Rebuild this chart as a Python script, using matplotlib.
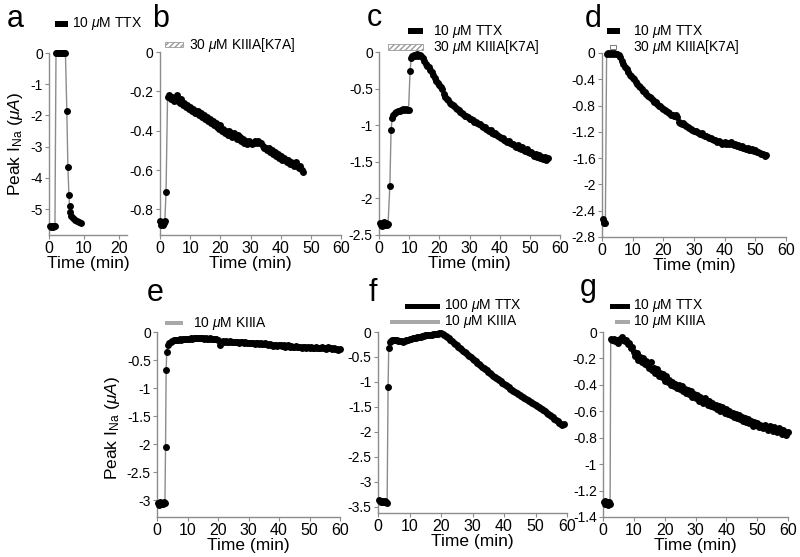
import numpy as np
import matplotlib
matplotlib.use('Agg')
import matplotlib.pyplot as plt
import matplotlib.transforms as mtransforms
from matplotlib.patches import Rectangle
from matplotlib.ticker import FormatStrFormatter

plt.rcParams['font.family'] = ['Liberation Sans', 'DejaVu Sans']
plt.rcParams['mathtext.fontset'] = 'custom'
plt.rcParams['mathtext.rm'] = 'Liberation Sans'
plt.rcParams['mathtext.it'] = 'Liberation Sans:italic'
plt.rcParams['axes.unicode_minus'] = False

# ---------------- DATA ----------------
# panel a
a_time = [0.2, 0.5, 0.8, 1.1, 1.4, 1.7,
          2.0, 2.3, 2.6, 2.9, 3.2, 3.5, 3.8, 4.1, 4.4, 4.7,
          5.1, 5.4, 5.7, 5.9, 6.1, 6.4, 6.9, 7.4, 8.0, 8.5, 9.1]
a_current = [-5.55, -5.56, -5.54, -5.56, -5.55, -5.55,
             0.0, -0.01, 0.0, -0.01, 0.0, 0.0, -0.01, 0.0, -0.01, 0.0,
             -1.87, -3.65, -4.55, -4.9, -5.1, -5.22, -5.3, -5.35, -5.38, -5.42, -5.45]

# panel b
b_time_early = [0.1, 0.4, 0.7, 1.0, 1.3, 1.6, 2.0]
b_current_early = [-0.86, -0.88, -0.87, -0.88, -0.87, -0.86, -0.71]
b_step_start = 2.5
b_current = [-0.23, -0.22, -0.24, -0.23, -0.25, -0.24, -0.22, -0.25, -0.26, -0.24,
             -0.27, -0.26, -0.28, -0.27, -0.29, -0.28, -0.30, -0.29, -0.31, -0.30,
             -0.30, -0.32, -0.31, -0.33, -0.32, -0.34, -0.33, -0.35, -0.34, -0.36,
             -0.35, -0.37, -0.36, -0.38, -0.39, -0.37, -0.40, -0.39, -0.41, -0.40,
             -0.42, -0.40, -0.41, -0.43, -0.41, -0.42, -0.44, -0.42, -0.43, -0.45,
             -0.44, -0.46, -0.45, -0.47, -0.45, -0.46, -0.47, -0.46, -0.45, -0.46,
             -0.45, -0.46, -0.46, -0.48, -0.49, -0.49, -0.50, -0.49, -0.51, -0.50,
             -0.52, -0.51, -0.53, -0.52, -0.54, -0.53, -0.55, -0.54, -0.55, -0.56,
             -0.55, -0.57, -0.56, -0.57, -0.58, -0.56, -0.58, -0.59, -0.58, -0.60,
             -0.61]

# panel c
c_time_early = [0.3, 0.6, 0.9, 1.2, 1.5, 1.8, 2.1, 2.4, 2.7, 3.0, 3.6, 4.0, 4.4, 4.8,
                5.3, 5.8, 6.3, 6.8, 7.3, 7.8, 8.3, 8.8, 9.3, 9.8, 10.3, 10.7, 11.1,
                11.5, 12.0, 12.5, 13.0, 13.5]
c_current_early = [-2.33, -2.36, -2.38, -2.34, -2.32, -2.35, -2.37, -2.34, -2.36, -2.35,
                   -1.83, -1.06, -0.90, -0.86, -0.84, -0.82, -0.81, -0.80, -0.79, -0.78,
                   -0.79, -0.78, -0.79, -0.79, -0.26, -0.08, -0.05, -0.04, -0.05, -0.03,
                   -0.05, -0.04]
c_step_start = 14.0
c_current = [-0.05, -0.08, -0.12, -0.16, -0.19, -0.21, -0.24, -0.27, -0.31, -0.36,
             -0.40, -0.43, -0.45, -0.48, -0.51, -0.58, -0.62, -0.64, -0.66, -0.69,
             -0.71, -0.72, -0.74, -0.76, -0.78, -0.79, -0.82, -0.84, -0.85, -0.87,
             -0.88, -0.89, -0.91, -0.92, -0.93, -0.95, -0.96, -0.97, -0.99, -0.98,
             -1.01, -1.03, -1.02, -1.05, -1.06, -1.08, -1.07, -1.10, -1.12, -1.11,
             -1.14, -1.15, -1.16, -1.18, -1.17, -1.20, -1.21, -1.23, -1.22, -1.24,
             -1.26, -1.25, -1.28, -1.30, -1.27, -1.31, -1.32, -1.30, -1.34, -1.35,
             -1.33, -1.37, -1.38, -1.36, -1.40, -1.42, -1.39, -1.43, -1.41, -1.45,
             -1.43, -1.46, -1.44, -1.47, -1.45]

# panel d
d_time_early = [0.2, 0.5, 0.8, 1.1, 1.5, 2.0, 2.5, 3.0, 3.5, 4.0, 4.5, 5.0, 5.5, 6.0]
d_current_early = [-2.53, -2.57, -2.59, -2.58, -0.02, 0.0, -0.01, 0.0, -0.02, 0.0,
                   -0.01, -0.02, -0.03, -0.06]
d_step_start = 6.5
d_current = [-0.12, -0.17, -0.22, -0.25, -0.29, -0.33, -0.35, -0.38, -0.40, -0.44,
             -0.47, -0.50, -0.52, -0.55, -0.58, -0.60, -0.62, -0.65, -0.67, -0.69,
             -0.71, -0.74, -0.75, -0.77, -0.80, -0.81, -0.83, -0.85, -0.87, -0.89,
             -0.90, -0.92, -0.94, -0.95, -0.96, -0.95, -0.98, -1.05, -1.07, -1.08,
             -1.07, -1.09, -1.11, -1.12, -1.14, -1.15, -1.17, -1.18, -1.19, -1.20,
             -1.22, -1.23, -1.22, -1.25, -1.26, -1.27, -1.28, -1.30, -1.29, -1.31,
             -1.32, -1.33, -1.35, -1.34, -1.36, -1.38, -1.37, -1.35, -1.38, -1.37,
             -1.39, -1.36, -1.38, -1.40, -1.39, -1.41, -1.40, -1.43, -1.42, -1.45,
             -1.44, -1.46, -1.44, -1.47, -1.48, -1.46, -1.49, -1.48, -1.51, -1.50,
             -1.52, -1.54, -1.53, -1.56, -1.55]

# panel e
e_time_early = [0.2, 0.5, 0.8, 1.1, 1.4, 1.7, 2.0, 2.3, 2.6, 2.8, 3.0, 3.2, 3.5]
e_current_early = [-3.05, -3.08, -3.06, -3.04, -3.07, -3.05, -3.06, -3.04, -3.05,
                   -2.05, -0.67, -0.35, -0.24]
e_step_start = 4.0
e_current = [-0.20, -0.17, -0.16, -0.15, -0.15, -0.14, -0.14, -0.13, -0.14, -0.13,
             -0.12, -0.13, -0.12, -0.12, -0.11, -0.12, -0.11, -0.11, -0.10, -0.11,
             -0.11, -0.10, -0.11, -0.12, -0.11, -0.12, -0.12, -0.11, -0.13, -0.12,
             -0.13, -0.12, -0.14, -0.24, -0.17, -0.16, -0.17, -0.16, -0.17, -0.18,
             -0.16, -0.17, -0.18, -0.17, -0.18, -0.17, -0.19, -0.18, -0.18, -0.19,
             -0.18, -0.20, -0.19, -0.19, -0.20, -0.19, -0.21, -0.20, -0.20, -0.21,
             -0.20, -0.22, -0.21, -0.20, -0.22, -0.23, -0.22, -0.24, -0.25, -0.24,
             -0.23, -0.25, -0.24, -0.23, -0.25, -0.24, -0.26, -0.25, -0.24, -0.26,
             -0.25, -0.26, -0.27, -0.25, -0.26, -0.27, -0.26, -0.28, -0.27, -0.26,
             -0.28, -0.27, -0.29, -0.27, -0.28, -0.29, -0.27, -0.28, -0.29, -0.28,
             -0.27, -0.29, -0.28, -0.30, -0.27, -0.29, -0.28, -0.30, -0.29, -0.31,
             -0.30, -0.32, -0.30]

# panel f
f_time_early = [0.2, 0.5, 0.8, 1.1, 1.4, 1.7, 2.0, 2.3, 2.6, 2.9, 3.2, 3.4, 3.7]
f_current_early = [-3.36, -3.38, -3.41, -3.39, -3.40, -3.38, -3.41, -3.39, -3.40, -3.42,
                   -1.10, -0.33, -0.20]
f_step_start = 4.0
f_current = [-0.18, -0.17, -0.16, -0.17, -0.17, -0.18, -0.18, -0.19, -0.20, -0.19,
             -0.17, -0.16, -0.15, -0.14, -0.13, -0.13, -0.12, -0.11, -0.10, -0.10,
             -0.08, -0.08, -0.07, -0.07, -0.06, -0.06, -0.06, -0.05, -0.05, -0.04,
             -0.04, -0.03, -0.03, -0.04, -0.06, -0.08, -0.11, -0.13, -0.16, -0.19,
             -0.22, -0.25, -0.27, -0.30, -0.32, -0.35, -0.38, -0.40, -0.43, -0.46,
             -0.49, -0.51, -0.54, -0.57, -0.59, -0.62, -0.64, -0.67, -0.70, -0.72,
             -0.75, -0.77, -0.80, -0.83, -0.85, -0.88, -0.90, -0.92, -0.94, -0.97,
             -0.99, -1.02, -1.04, -1.07, -1.09, -1.11, -1.14, -1.16, -1.18, -1.20,
             -1.23, -1.25, -1.27, -1.29, -1.31, -1.33, -1.35, -1.37, -1.39, -1.41,
             -1.43, -1.45, -1.47, -1.49, -1.51, -1.53, -1.55, -1.57, -1.59, -1.62,
             -1.64, -1.66, -1.69, -1.71, -1.74, -1.76, -1.79, -1.82, -1.84, -1.86,
             -1.85]

# panel g
g_time_early = [0.2, 0.5, 0.8, 1.1, 1.4, 1.7, 2.0, 2.3]
g_current_early = [-1.29, -1.30, -1.28, -1.30, -1.29, -1.31, -1.29, -1.30]
g_step_start = 2.5
g_current = [-0.05, -0.06, -0.05, -0.07, -0.06, -0.08, -0.05, -0.04, -0.06, -0.07,
             -0.06, -0.09, -0.08, -0.12, -0.11, -0.15, -0.18, -0.16, -0.21, -0.19,
             -0.23, -0.20, -0.24, -0.22, -0.26, -0.27, -0.23, -0.29, -0.27, -0.31,
             -0.28, -0.33, -0.31, -0.34, -0.32, -0.37, -0.33, -0.38, -0.36, -0.40,
             -0.38, -0.41, -0.39, -0.42, -0.40, -0.43, -0.41, -0.45, -0.43, -0.46,
             -0.44, -0.47, -0.45, -0.49, -0.47, -0.50, -0.48, -0.52, -0.49, -0.51,
             -0.54, -0.50, -0.53, -0.55, -0.52, -0.56, -0.54, -0.57, -0.55, -0.58,
             -0.56, -0.60, -0.57, -0.59, -0.61, -0.58, -0.62, -0.60, -0.63, -0.61,
             -0.64, -0.62, -0.65, -0.63, -0.66, -0.64, -0.67, -0.65, -0.68, -0.66,
             -0.69, -0.67, -0.71, -0.68, -0.70, -0.69, -0.72, -0.70, -0.71, -0.73,
             -0.70, -0.72, -0.74, -0.71, -0.73, -0.75, -0.72, -0.74, -0.76, -0.73,
             -0.75, -0.77, -0.74, -0.76, -0.78, -0.76]

SAMPLE_STEP = 0.5

# drug application bars: (start, end, style, label)
a_apps = [(1.7, 5.4, 'black', '10 $\\mu$M TTX')]
b_apps = [(1.7, 7.6, 'hatch', '30 $\\mu$M KIIIA[K7A]')]
c_apps = [(9.6, 14.6, 'black', '10 $\\mu$M TTX'), (3.0, 14.6, 'hatch', '30 $\\mu$M KIIIA[K7A]')]
d_apps = [(1.6, 5.9, 'black', '10 $\\mu$M TTX'), (2.6, 4.6, 'open', '30 $\\mu$M KIIIA[K7A]')]
e_apps = [(2.6, 8.5, 'gray', '10 $\\mu$M KIIIA')]
f_apps = [(8.6, 19.7, 'black', '100 $\\mu$M TTX'), (3.8, 19.7, 'gray', '10 $\\mu$M KIIIA')]
g_apps = [(2.3, 8.8, 'black', '10 $\\mu$M TTX'), (3.9, 8.8, 'gray', '10 $\\mu$M KIIIA')]

a_yticks = [0, -1, -2, -3, -4, -5]
b_yticks = [0, -0.2, -0.4, -0.6, -0.8]
c_yticks = [0, -0.5, -1, -1.5, -2, -2.5]
d_yticks = [0, -0.4, -0.8, -1.2, -1.6, -2, -2.4, -2.8]
e_yticks = [0, -0.5, -1, -1.5, -2, -2.5, -3]
f_yticks = [0, -0.5, -1, -1.5, -2, -2.5, -3, -3.5]
g_yticks = [0, -0.2, -0.4, -0.6, -0.8, -1, -1.2, -1.4]
a_xticks = [0, 10, 20]
long_xticks = [0, 10, 20, 30, 40, 50, 60]

# ---------------- FIGURE ----------------
W, H = 800, 557
fig = plt.figure(figsize=(W / 100, H / 100), dpi=100)
fig.patch.set_facecolor('white')

SPINE = '#8c8c8c'
LINE = '#8c8c8c'


def px_axes(left, top, right, bottom):
    return fig.add_axes([left / W, 1 - bottom / H, (right - left) / W, (bottom - top) / H])


def full_series(t_early, v_early, start, vals):
    t = list(t_early) + list(start + SAMPLE_STEP * np.arange(len(vals)))
    v = list(v_early) + list(vals)
    return t, v


def style_axes(ax, xlim, ylim, xticks, yticks):
    ax.set_xlim(*xlim)
    ax.set_ylim(*ylim)
    ax.set_xticks(xticks)
    ax.set_yticks(yticks)
    ax.yaxis.set_major_formatter(FormatStrFormatter('%g'))
    for s in ['top', 'right']:
        ax.spines[s].set_visible(False)
    for s in ['left', 'bottom']:
        ax.spines[s].set_color(SPINE)
        ax.spines[s].set_linewidth(1.0)
    ax.tick_params(axis='both', direction='out', length=3, width=0.8, color=SPINE,
                   pad=1.5)
    ax.tick_params(axis='y', labelsize=10)
    ax.tick_params(axis='x', labelsize=11.5, pad=1)
    ax.set_xlabel('Time (min)', fontsize=12.5, labelpad=0)
    ax.patch.set_alpha(0)


def plot_trace(ax, t, v):
    ax.plot(t, v, '-', color=LINE, lw=1.0, zorder=2, clip_on=False)
    ax.plot(t, v, 'o', color='black', ms=5, mec='black', mew=0, zorder=3,
            clip_on=False)


def draw_apps(ax, apps, rows_px, text_x_px):
    trans = mtransforms.blended_transform_factory(ax.transData, fig.transFigure)
    for (s, e, style, label), ypx in zip(apps, rows_px):
        yc = 1 - ypx / H
        if style == 'black':
            h = 5 / H
            ax.add_patch(Rectangle((s, yc - h / 2), e - s, h, transform=trans,
                                   facecolor='black', edgecolor='none', clip_on=False))
        elif style == 'gray':
            h = 4.5 / H
            ax.add_patch(Rectangle((s, yc - h / 2), e - s, h, transform=trans,
                                   facecolor='#a8a8a8', edgecolor='none', clip_on=False))
        elif style == 'hatch':
            h = 5 / H
            ax.add_patch(Rectangle((s, yc - h / 2), e - s, h, transform=trans,
                                   facecolor='white', edgecolor='#9a9a9a', hatch='//////',
                                   lw=0.6, clip_on=False))
        elif style == 'open':
            h = 4 / H
            ax.add_patch(Rectangle((s, yc - h / 2), e - s, h, transform=trans,
                                   facecolor='white', edgecolor='#7a7a7a',
                                   lw=0.7, clip_on=False))
        fig.text(text_x_px / W, yc, label, fontsize=10, ha='left', va='center')


# panel a
ax = px_axes(49, 53, 127, 235)
plot_trace(ax, a_time, a_current)
style_axes(ax, (0, 22.3), (-5.83, 0), a_xticks, a_yticks)
draw_apps(ax, a_apps, [24], 72)

# panel b
ax = px_axes(160, 52, 341, 235)
t, v = full_series(b_time_early, b_current_early, b_step_start, b_current)
plot_trace(ax, t, v)
style_axes(ax, (0, 60), (-0.93, 0), long_xticks, b_yticks)
draw_apps(ax, b_apps, [45], 189)

# panel c
ax = px_axes(379, 52, 560, 235)
t, v = full_series(c_time_early, c_current_early, c_step_start, c_current)
plot_trace(ax, t, v)
style_axes(ax, (0, 60), (-2.5, 0), long_xticks, c_yticks)
draw_apps(ax, c_apps, [31, 47], 433)

# panel d
ax = px_axes(602, 53, 786, 237)
t, v = full_series(d_time_early, d_current_early, d_step_start, d_current)
plot_trace(ax, t, v)
style_axes(ax, (0, 60), (-2.8, 0), long_xticks, d_yticks)
draw_apps(ax, d_apps, [31, 47], 633)

# panel e
ax = px_axes(157, 332, 340, 517)
t, v = full_series(e_time_early, e_current_early, e_step_start, e_current)
plot_trace(ax, t, v)
style_axes(ax, (0, 60), (-3.3, 0), long_xticks, e_yticks)
draw_apps(ax, e_apps, [323], 193)

# panel f
ax = px_axes(378, 332, 567, 513)
t, v = full_series(f_time_early, f_current_early, f_step_start, f_current)
plot_trace(ax, t, v)
style_axes(ax, (0, 60), (-3.63, 0), long_xticks, f_yticks)
draw_apps(ax, f_apps, [306, 322], 444)

# panel g
ax = px_axes(603, 332, 788, 517)
t, v = full_series(g_time_early, g_current_early, g_step_start, g_current)
plot_trace(ax, t, v)
style_axes(ax, (0, 60), (-1.4, 0), long_xticks, g_yticks)
draw_apps(ax, g_apps, [306, 322], 633)

# y labels
ylabel = 'Peak I$_{\\mathrm{Na}}$ ($\\mu A$)'
fig.text(16 / W, 1 - 144 / H, ylabel, rotation=90, fontsize=12.5, ha='center', va='center')
fig.text(112 / W, 1 - 428 / H, ylabel, rotation=90, fontsize=12.5, ha='center', va='center')

# panel letters
letters = [('a', 7, 27), ('b', 152, 27), ('c', 367, 26), ('d', 585, 27),
           ('e', 147, 301), ('f', 369, 301), ('g', 580, 296)]
for lab, x, y in letters:
    fig.text(x / W, 1 - y / H, lab, fontsize=22, ha='left', va='baseline')

fig.savefig('out.png', dpi=100, facecolor='white')
